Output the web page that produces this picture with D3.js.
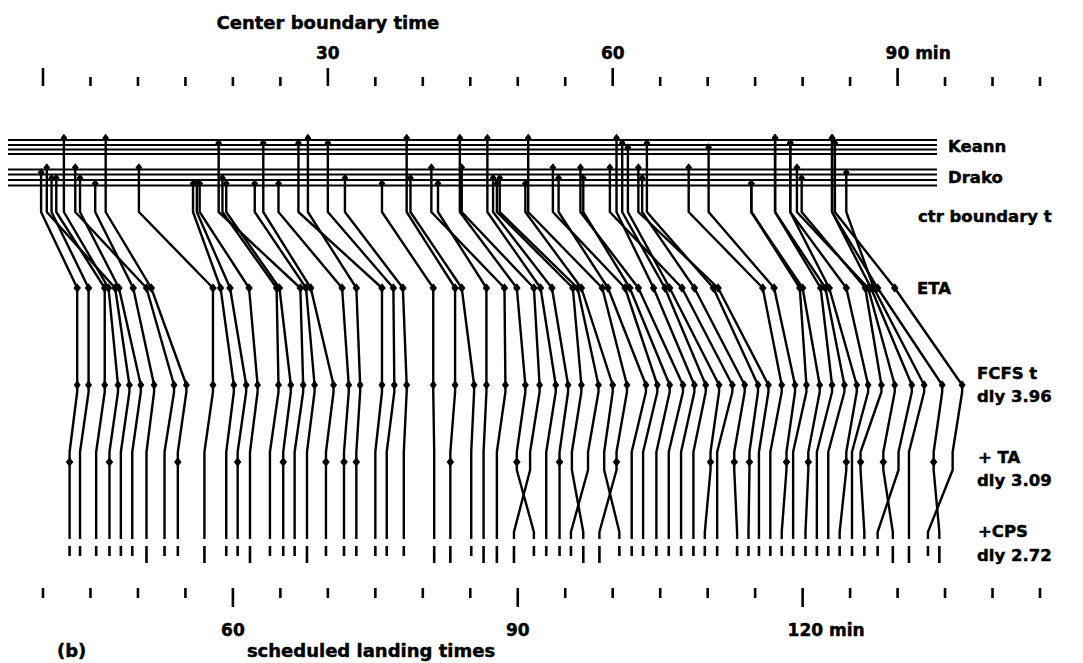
<!DOCTYPE html>
<html><head><meta charset="utf-8">
<script src="https://cdn.jsdelivr.net/npm/d3@7"></script>
<style>
body{margin:0;background:#fff}
svg{display:block}
text{font-family:"DejaVu Sans",sans-serif;font-weight:bold;fill:#000;stroke:#000;stroke-width:0.45px}
</style>
</head><body>
<svg id="chart" width="1083" height="663"></svg>
<script>
// ---- data (minutes) ----
const routeNames = ["Keann","Drako"];
const topTickValues = [0,5,10,15,20,25,30,35,40,45,50,55,60,65,70,75,80,85,90,95,100,105];
const topMajor = [0,30,60,90];
const topLabels = [{v:30,t:"30"},{v:60,t:"60"},{v:90,t:"90 min"}];
const botTickValues = [40,45,50,55,60,65,70,75,80,85,90,95,100,105,110,115,120,125,130,135,140,145];
const botMajor = [60,90,120];
const botLabels = [{v:60,t:"60"},{v:90,t:"90"},{v:120,t:"120 min"}];

// per aircraft, in FCFS order
// center boundary time (top scale) and route line (0-3 Keann, 4-7 Drako)
const ctrTime = [-0.2,0.9,1.4,2.2,0.4,3.9,5.5,3.4,6.6,10.1,
  15.8,16.2,16.5,18.9,19.3,18.5,22.3,23.2,24.8,27.9,
  26.9,30.0,31.8,35.7,38.3,38.7,41.6,40.9,43.9,44.1,
  46.8,47.4,47.8,48.1,50.8,51.1,54.3,53.7,56.9,56.6,
  60.4,61.0,61.6,59.7,63.1,63.6,62.7,68.0,70.1,74.6,
  74.6,77.1,77.1,78.7,78.7,79.9,79.4,83.1,84.6,83.1,83.4];
const route = [5,6,6,0,4,6,7,4,0,4,
  7,7,7,6,7,1,7,1,7,0,
  1,1,6,7,0,6,7,4,0,4,
  0,6,7,6,7,0,6,4,6,4,
  0,1,2,4,6,1,4,4,2,7,
  7,0,0,1,1,6,4,0,5,0,1];
// landing-time scale values
const eta = [43.6,44.8,46.5,46.9,47.6,48.0,49.5,50.9,51.4,57.9,
  58.7,59.7,61.7,64.6,64.9,67.1,67.7,68.2,71.5,73.0,
  75.7,76.9,77.9,81.1,83.4,84.1,86.7,88.6,89.9,91.7,
  92.4,93.6,95.8,96.3,96.7,98.9,99.5,101.3,101.8,102.7,
  104.3,105.5,106.0,107.3,108.6,110.6,111.1,115.8,117.0,119.7,
  120.0,121.9,122.4,122.8,124.6,126.6,126.9,127.2,127.5,127.9,129.7];
const fcfs = [43.6,44.8,46.5,47.9,49.1,50.3,51.7,53.8,55.1,57.9,
  60.1,61.4,62.6,64.8,66.1,67.4,68.6,70.6,72.2,73.4,
  75.7,77.0,78.3,81.1,83.4,85.4,86.7,88.7,90.8,92.3,
  94.0,95.3,96.7,98.5,100.0,101.5,103.5,104.7,106.0,107.4,
  108.6,109.8,111.2,112.6,113.9,115.3,116.4,117.8,119.2,120.4,
  121.8,123.1,124.4,125.7,126.9,128.3,129.7,131.5,132.8,134.7,136.8];
const ta = [42.8,43.9,45.6,47.0,48.2,49.4,50.9,52.8,54.2,57.0,
  59.3,60.5,61.8,63.9,65.3,66.5,67.8,69.8,71.7,73.0,
  75.0,76.2,78.0,81.2,82.9,85.1,86.4,87.8,89.9,91.3,
  93.0,94.4,95.7,97.4,99.1,100.4,102.0,103.2,104.6,105.9,
  107.2,108.5,110.3,111.0,112.8,114.4,115.4,116.6,118.3,119.0,
  120.6,121.5,122.7,124.6,125.2,126.1,128.5,130.1,131.2,133.8,135.8];
const cps = [42.8,43.9,45.6,47.0,48.2,49.4,50.9,52.8,54.2,57.0,
  59.3,60.5,61.8,63.9,65.3,66.5,67.8,69.8,71.7,73.0,
  75.0,76.2,78.0,81.2,82.9,85.1,86.4,87.8,91.7,89.6,
  93.0,94.4,96.9,95.6,100.7,98.6,102.0,103.2,104.6,105.9,
  107.2,108.5,109.7,111.0,113.1,114.3,115.4,116.6,117.8,119.0,
  120.3,121.5,122.7,123.9,125.2,126.5,129.5,127.9,131.2,134.4,133.2];
// aircraft (1-based) marked at the TA level, and those with long landing ticks
const taMarked = [1,4,9,12,15,18,19,20,25,29,32,36,43,45,46,49,51,54,56,57,60];
const longTick = [7,10,13,17,24,25,27,28,30,33,36,57,59,60];
const levelLabels = [
  {t:"Keann", x:948, y:152},{t:"Drako", x:948, y:183},
  {t:"ctr boundary t", x:918, y:222},{t:"ETA", x:917, y:294},
  {t:"FCFS t", x:977, y:379},{t:"dly 3.96", x:977, y:402},
  {t:"+ TA", x:978, y:463},{t:"dly 3.09", x:977, y:486},
  {t:"+CPS", x:978, y:537},{t:"dly 2.72", x:977, y:561}
];

// ---- drawing ----
const svg = d3.select("#chart");
const xTop = d3.scaleLinear().domain([0,105]).range([43,1040]);
const xBot = d3.scaleLinear().domain([40,145]).range([43,1040]);
const routeY = d3.scaleOrdinal().domain(d3.range(8)).range([140,145,149.5,154,169.5,174.5,180,185.5]);
const Y = {ctr:212, eta:288, fcfs:385, ta:462, cps:539};

// top axis
const gTop = svg.append("g");
gTop.selectAll("line").data(topTickValues).join("line")
  .attr("x1",d=>xTop(d)).attr("x2",d=>xTop(d))
  .attr("y1",d=>topMajor.includes(d)?68:77).attr("y2",86)
  .attr("stroke","#000").attr("stroke-width",2.6);
gTop.selectAll("text").data(topLabels).join("text")
  .attr("x",d=>xTop(d.v)).attr("y",59).attr("font-size",17)
  .attr("text-anchor",d=>d.t.length>3?"start":"middle")
  .attr("dx",d=>d.t.length>3?-12:0)
  .text(d=>d.t);
svg.append("text").attr("x",xTop(30)).attr("y",29).attr("font-size",18)
  .attr("text-anchor","middle").text("Center boundary time");

// route lines
svg.append("g").selectAll("line").data(d3.range(8)).join("line")
  .attr("x1",8).attr("x2",937).attr("y1",d=>routeY(d)).attr("y2",d=>routeY(d))
  .attr("stroke","#000").attr("stroke-width",2.2);

// aircraft paths
const line = d3.line();
const n = fcfs.length;
const paths = d3.range(n).map(i=>{
  const xc = xTop(ctrTime[i]), xe = xBot(eta[i]), xf = xBot(fcfs[i]), xt = xBot(ta[i]), xp = xBot(cps[i]);
  return [[xc,routeY(route[i])],[xc,Y.ctr],[xe,Y.eta],[xf,Y.fcfs],[xf,Y.fcfs+7],[xt,452],[xt,Y.ta],[xt,470],[xp,532],[xp,Y.cps]];
});
svg.append("g").selectAll("path").data(paths).join("path")
  .attr("d",d=>line(d)).attr("fill","none").attr("stroke","#000")
  .attr("stroke-width",2.4).attr("stroke-linejoin","round");

const diamond = (x,y,w,h)=>`M${x},${y-h}L${x+w},${y}L${x},${y+h}L${x-w},${y}Z`;
const gm = svg.append("g");
gm.selectAll("path.top").data(d3.range(n)).join("path").attr("class","top")
  .attr("d",i=>diamond(xTop(ctrTime[i]),routeY(route[i])-2,3.4,4.2));
gm.selectAll("path.eta").data(eta).join("path").attr("class","eta")
  .attr("d",d=>diamond(xBot(d),Y.eta,3.8,4.8));
gm.selectAll("path.fcfs").data(fcfs).join("path").attr("class","fcfs")
  .attr("d",d=>diamond(xBot(d),Y.fcfs,3.5,4.8));
gm.selectAll("path.ta").data(taMarked).join("path").attr("class","ta")
  .attr("d",k=>diamond(xBot(ta[k-1]),Y.ta,3.8,4.8));
gm.selectAll("path").attr("fill","#000");

// landing ticks
svg.append("g").selectAll("line").data(d3.range(n)).join("line")
  .attr("x1",i=>xBot(cps[i])).attr("x2",i=>xBot(cps[i]))
  .attr("y1",546).attr("y2",i=>longTick.includes(i+1)?563:556)
  .attr("stroke","#000").attr("stroke-width",2.6);

// bottom axis
const gBot = svg.append("g");
gBot.selectAll("line").data(botTickValues).join("line")
  .attr("x1",d=>xBot(d)).attr("x2",d=>xBot(d))
  .attr("y1",588).attr("y2",d=>botMajor.includes(d)?607:598)
  .attr("stroke","#000").attr("stroke-width",2.6);
gBot.selectAll("text").data(botLabels).join("text")
  .attr("x",d=>xBot(d.v)).attr("y",636).attr("font-size",17)
  .attr("text-anchor",d=>d.t.length>3?"start":"middle")
  .attr("dx",d=>d.t.length>3?-15:0)
  .text(d=>d.t);
svg.append("text").attr("x",57).attr("y",657).attr("font-size",18).text("(b)");
svg.append("text").attr("x",371).attr("y",657).attr("font-size",18)
  .attr("text-anchor","middle").text("scheduled landing times");

// right-hand labels
svg.append("g").selectAll("text").data(levelLabels).join("text")
  .attr("x",d=>d.x).attr("y",d=>d.y).attr("font-size",16.5).text(d=>d.t);
</script>
</body></html>
